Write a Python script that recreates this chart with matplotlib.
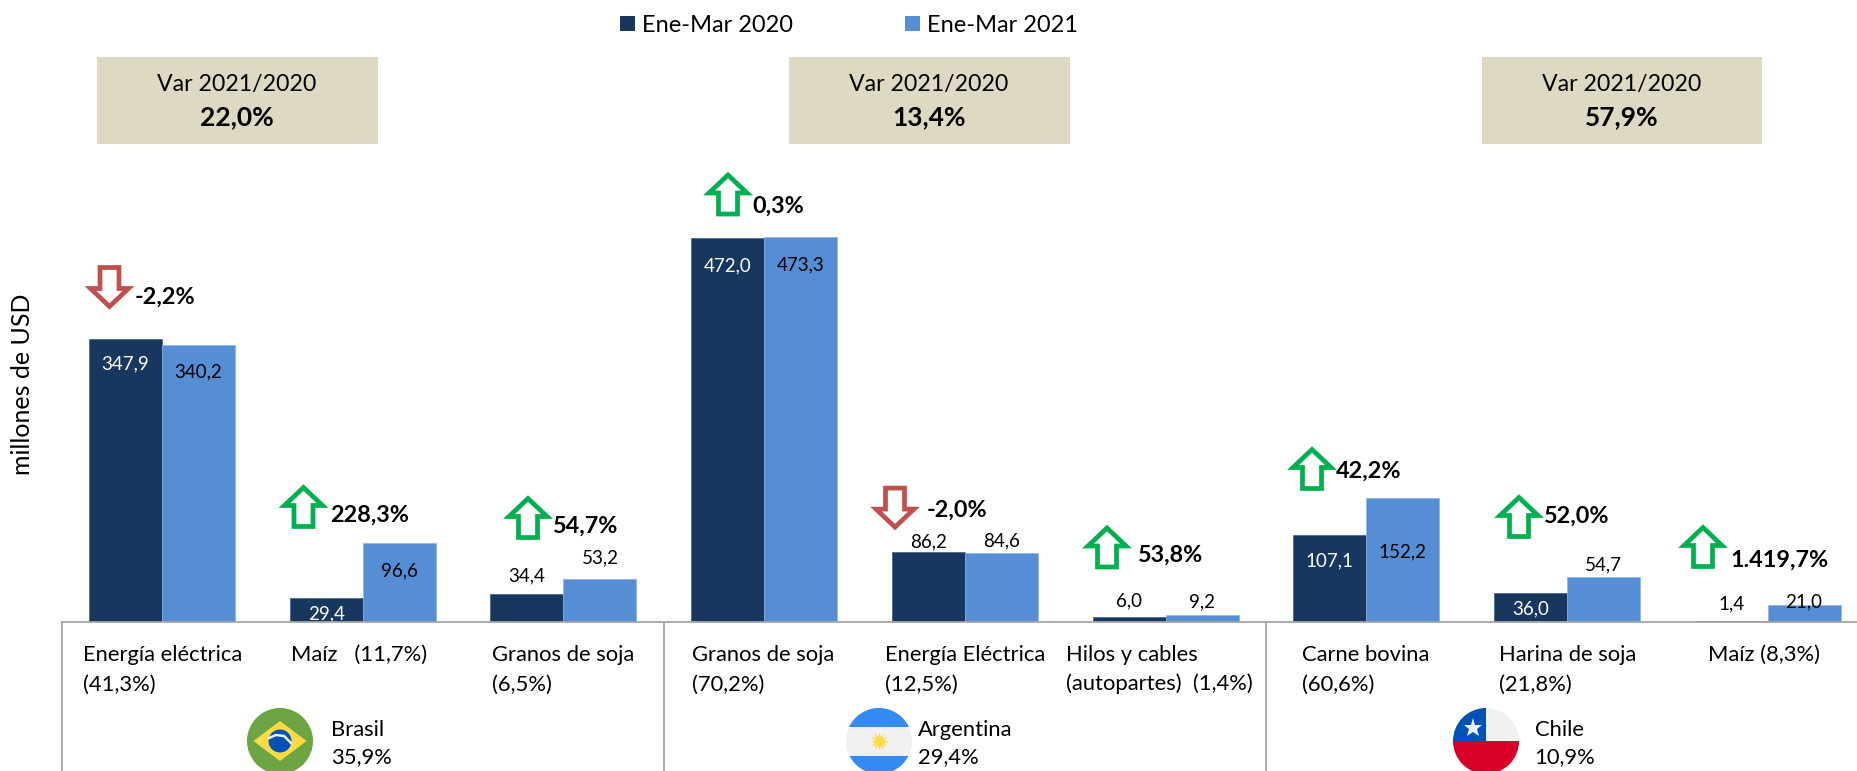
import numpy as np
import matplotlib
matplotlib.use('Agg')
import matplotlib.pyplot as plt
from matplotlib.patches import Circle, Polygon, Rectangle, Wedge

plt.rcParams['font.family'] = ['Lato', 'DejaVu Sans']

W, H = 1857, 771
DARK = '#17375E'
LIGHT = '#558ED5'

products = ['Energía eléctrica\n(41,3%)', 'Maíz   (11,7%)', 'Granos de soja\n(6,5%)',
            'Granos de soja\n(70,2%)', 'Energía Eléctrica\n(12,5%)', 'Hilos y cables\n(autopartes)  (1,4%)',
            'Carne bovina\n(60,6%)', 'Harina de soja\n(21,8%)', 'Maíz (8,3%)']
values_2020 = [347.9, 29.4, 34.4, 472.0, 86.2, 6.0, 107.1, 36.0, 1.4]
values_2021 = [340.2, 96.6, 53.2, 473.3, 84.6, 9.2, 152.2, 54.7, 21.0]
changes = ['-2,2%', '228,3%', '54,7%', '0,3%', '-2,0%', '53,8%', '42,2%', '52,0%', '1.419,7%']
countries = ['Brasil\n35,9%', 'Argentina\n29,4%', 'Chile\n10,9%']
totals = ['22,0%', '13,4%', '57,9%']

# layout, in pixels of the reference
PX_PER_UNIT = 0.814
BASE_Y = 622
LEFT = 61.65
PITCH = 200.7
BAR_W = 73 / PITCH
offs_2020 = [-25, -16, 18, -28, 10, 16, -26, -16, 17]
offs_2021 = [-27, -28, 21, -28, 12, 13, -54, 13, 3]
label_x = [83, 291, 492, 692, 885, 1066.5, 1302, 1499, 1708]
arrow_x = [109.5, 303.5, 528, 728, 895, 1107, 1312, 1519, 1703]
arrow_top = [265, 483, 494, 170.5, 485.6, 523.5, 445, 493, 523]
change_x = [135, 330, 553, 752, 927, 1138, 1336, 1544, 1730]
change_y = [297, 515, 526, 206, 510, 555, 471, 516, 560]
box_x = [97, 789, 1481.5]
flag_x = [280, 879, 1486]
country_x = [331, 918, 1534.5]
sep_x = [62, 664, 1266]

fig = plt.figure(figsize=(W / 100, H / 100), dpi=100)

# chart axes: data units for bars
ax = fig.add_axes([LEFT / W, 1 - BASE_Y / H, 1 - LEFT / W, BASE_Y / H])
ax.set_xlim(-0.5, (W - LEFT) / PITCH - 0.5)
ax.set_ylim(0, BASE_Y / PX_PER_UNIT)
ax.axis('off')
x = np.arange(len(products))
ax.bar(x - BAR_W / 2, values_2020, BAR_W, color=DARK, edgecolor='#3F5F87', linewidth=0.5, zorder=2)
ax.bar(x + BAR_W / 2, values_2021, BAR_W, color=LIGHT, edgecolor='#8DB3E2', linewidth=0.5, zorder=2)

for i in x:
    white = offs_2020[i] < 0
    ax.annotate(f'{values_2020[i]:.1f}'.replace('.', ','), (i - BAR_W / 2, values_2020[i]),
                xytext=(0, offs_2020[i]), textcoords='offset pixels', ha='center', va='center',
                fontsize=13.5, color='white' if white else 'black', zorder=3, annotation_clip=False)
    ax.annotate(f'{values_2021[i]:.1f}'.replace('.', ','), (i + BAR_W / 2, values_2021[i]),
                xytext=(0, offs_2021[i]), textcoords='offset pixels', ha='center', va='center',
                fontsize=13.5, color='black', zorder=3, annotation_clip=False)

# overlay in pixel coordinates for all annotation furniture
ov = fig.add_axes([0, 0, 1, 1])
ov.set_xlim(0, W)
ov.set_ylim(H, 0)
ov.axis('off')
ov.patch.set_alpha(0)


def arrow(cx, top, up):
    hw, sw, hh, h = 19, 9.5, 18, 39
    if up:
        top = top + 4.5
        pts = [(cx, top), (cx + hw, top + hh), (cx + sw, top + hh), (cx + sw, top + h),
               (cx - sw, top + h), (cx - sw, top + hh), (cx - hw, top + hh)]
        col = '#00B050'
    else:
        top = top + 2.5
        pts = [(cx, top + h), (cx + hw, top + h - hh), (cx + sw, top + h - hh), (cx + sw, top),
               (cx - sw, top), (cx - sw, top + h - hh), (cx - hw, top + h - hh)]
        col = '#C0504D'
    ov.add_patch(Polygon(pts, closed=True, fc='white', ec=col, lw=3.4, joinstyle='miter'))


for i in range(len(changes)):
    arrow(arrow_x[i], arrow_top[i], not changes[i].startswith('-'))
    ov.text(change_x[i], change_y[i], changes[i], ha='left', va='center', fontsize=16.8, fontweight='bold')
    for j, line in enumerate(products[i].split('\n')):
        ov.text(label_x[i], 661 + 29.5 * j, line, ha='left', va='baseline', fontsize=15.8)

# axis line and group separators
ov.plot([LEFT, W], [BASE_Y, BASE_Y], color='#A6A6A6', lw=1.3)
for sx in sep_x:
    ov.plot([sx, sx], [BASE_Y, H], color='#A6A6A6', lw=1.3)

# summary boxes
for bx, total in zip(box_x, totals):
    ov.add_patch(Rectangle((bx, 57), 280.5, 87, fc='#DDD9C3', ec='none'))
    ov.text(bx + 140, 84.5, 'Var 2021/2020', ha='center', va='center', fontsize=16.7)
    ov.text(bx + 140, 117, total, ha='center', va='center', fontsize=19, fontweight='bold')

# legend
ov.add_patch(Rectangle((620, 16), 15, 15, fc=DARK, ec='none'))
ov.text(641.7, 32, 'Ene-Mar 2020', ha='left', va='baseline', fontsize=17)
ov.add_patch(Rectangle((905, 16), 15, 15, fc=LIGHT, ec='none'))
ov.text(926.7, 32, 'Ene-Mar 2021', ha='left', va='baseline', fontsize=17)

ov.text(23, 384, 'millones de USD', rotation=90, ha='center', va='center', fontsize=18)

# country flags
FY, FR = 741, 33
# Brazil
fx = flag_x[0]
ov.add_patch(Circle((fx, FY), FR, fc='#6DA544', ec='none'))
ov.add_patch(Polygon([(fx - 26.5, FY), (fx, FY - 20), (fx + 26.5, FY), (fx, FY + 20)], fc='#FFDA44', ec='none'))
ov.add_patch(Circle((fx, FY), 11.5, fc='#0052B4', ec='none'))
ov.plot([fx - 11, fx - 4, fx + 4, fx + 11], [FY - 3, FY - 6, FY - 5, FY + 2], color='#F0F0F0', lw=1.8)
# Argentina
fx = flag_x[1]
clip = Circle((fx, FY), FR, fc='#F0F0F0', ec='none')
ov.add_patch(clip)
for y0, y1 in [(FY - FR, FY - 14), (FY + 15, FY + FR)]:
    band = Rectangle((fx - FR, y0), 2 * FR, y1 - y0, fc='#338AF3', ec='none')
    ov.add_patch(band)
    band.set_clip_path(clip)
ov.plot([fx], [FY], marker=(12, 1, 0), ms=13, color='#FFDA44', mew=0)
# Chile
fx = flag_x[2]
ov.add_patch(Circle((fx, FY), FR, fc='#F0F0F0', ec='none'))
ov.add_patch(Wedge((fx, FY), FR, 0, 180, fc='#D80027', ec='none'))
ov.add_patch(Wedge((fx, FY), FR, 180, 270, fc='#0052B4', ec='none'))
ov.plot([fx - 13.4], [FY - 13], marker='*', ms=14, color='#F0F0F0', mew=0)

for cx, name in zip(country_x, countries):
    for j, line in enumerate(name.split('\n')):
        ov.text(cx, 735.7 + 27.5 * j, line, ha='left', va='baseline', fontsize=15.8)

fig.savefig('out.png', dpi=100)
